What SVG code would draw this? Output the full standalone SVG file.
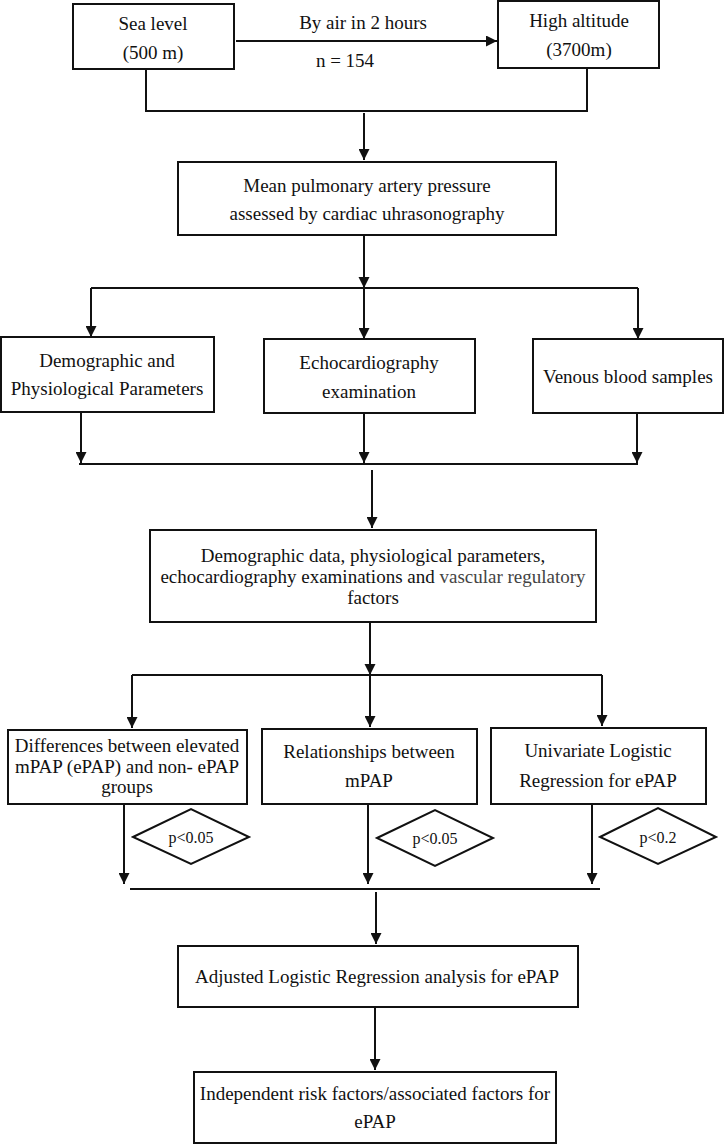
<svg xmlns="http://www.w3.org/2000/svg" width="725" height="1145" viewBox="0 0 725 1145">
<defs>
<marker id="ah" markerUnits="userSpaceOnUse" markerWidth="12" markerHeight="11" refX="11" refY="5.5" orient="auto">
<path d="M0,0 L11,5.5 L0,11 Z" fill="#111"/>
</marker>
<style>
.box{fill:#fff;stroke:#111;stroke-width:2}
.ln{fill:none;stroke:#111;stroke-width:2}
.ar{fill:none;stroke:#111;stroke-width:2;marker-end:url(#ah)}
text{font-family:"Liberation Serif","Times New Roman",serif;font-size:19px;fill:#111;text-anchor:middle}
.sm{font-size:16px}
.gr{fill:#444}
</style>
</defs>
<rect width="725" height="1145" fill="#fff"/>
<g id="connectors">
<line class="ar" x1="236" y1="41" x2="497" y2="41"/>
<polyline class="ln" points="146,69 146,111 587,111 587,68"/>
<line class="ar" x1="364" y1="113" x2="364" y2="160"/>
<line class="ln" x1="364" y1="235" x2="364" y2="288"/>
<polygon points="358.5,277 369.5,277 364,288" fill="#111"/>
<line class="ln" x1="91" y1="288" x2="638" y2="288"/>
<line class="ar" x1="91" y1="288" x2="91" y2="337"/>
<line class="ar" x1="364" y1="288" x2="364" y2="339"/>
<line class="ar" x1="638" y1="288" x2="638" y2="339"/>
<line class="ar" x1="81" y1="413" x2="81" y2="463"/>
<line class="ar" x1="364" y1="413" x2="364" y2="463"/>
<line class="ar" x1="637" y1="412" x2="637" y2="463"/>
<line class="ln" x1="79" y1="464" x2="638" y2="464"/>
<line class="ar" x1="372" y1="470" x2="372" y2="528"/>
<line class="ln" x1="370" y1="622" x2="370" y2="675"/>
<polygon points="364.5,664 375.5,664 370,675" fill="#111"/>
<line class="ln" x1="132" y1="675" x2="602" y2="675"/>
<line class="ar" x1="132" y1="675" x2="132" y2="728"/>
<line class="ar" x1="370" y1="675" x2="370" y2="727"/>
<line class="ar" x1="602" y1="675" x2="602" y2="726"/>
<line class="ar" x1="124" y1="804" x2="124" y2="884"/>
<line class="ar" x1="368" y1="804" x2="368" y2="884"/>
<line class="ar" x1="592" y1="804" x2="592" y2="884"/>
<line class="ln" x1="130" y1="889" x2="600" y2="889"/>
<line class="ar" x1="376" y1="892" x2="376" y2="944"/>
<line class="ar" x1="375" y1="1007" x2="375" y2="1070"/>
<text x="363" y="29">By air in 2 hours</text>
<text x="345" y="67">n = 154</text>
</g>
<g id="sea-level">
<rect class="box" x="73" y="4" width="161" height="65"/>
<text x="153" y="30">Sea level</text>
<text x="153" y="59">(500 m)</text>
</g>
<g id="high-altitude">
<rect class="box" x="498" y="1" width="161" height="67"/>
<text x="579" y="27">High altitude</text>
<text x="579" y="56">(3700m)</text>
</g>
<g id="mpap">
<rect class="box" x="178" y="162" width="378" height="73"/>
<text x="367" y="192">Mean pulmonary artery pressure</text>
<text x="367" y="220">assessed by cardiac uhrasonography</text>
</g>
<g id="demographic">
<rect class="box" x="1" y="337" width="213" height="75"/>
<text x="107" y="367">Demographic and</text>
<text x="107" y="395">Physiological Parameters</text>
</g>
<g id="echo">
<rect class="box" x="264" y="339" width="211" height="74"/>
<text x="369" y="369">Echocardiography</text>
<text x="369" y="398">examination</text>
</g>
<g id="venous">
<rect class="box" x="533" y="339" width="190" height="74"/>
<text x="628" y="383">Venous blood samples</text>
</g>
<g id="data">
<rect class="box" x="150" y="530" width="446" height="92"/>
<text x="373" y="562">Demographic data, physiological parameters,</text>
<text x="373" y="583">echocardiography examinations and <tspan class="gr">vascular regulatory</tspan></text>
<text x="373" y="604">factors</text>
</g>
<g id="differences">
<rect class="box" x="8" y="730" width="239" height="74"/>
<text x="127" y="752">Differences between elevated</text>
<text x="127" y="773">mPAP (ePAP) and non- ePAP</text>
<text x="127" y="793">groups</text>
</g>
<g id="relationships">
<rect class="box" x="262" y="729" width="215" height="75"/>
<text x="369" y="758">Relationships between</text>
<text x="369" y="787">mPAP</text>
</g>
<g id="univariate">
<rect class="box" x="491" y="728" width="215" height="76"/>
<text x="598" y="757">Univariate Logistic</text>
<text x="598" y="787">Regression for ePAP</text>
</g>
<g id="p1">
<polygon class="box" points="133,837 191,809 249,837 191,864"/>
<text class="sm" x="191" y="843">p&lt;0.05</text>
</g>
<g id="p2">
<polygon class="box" points="377,838 435,810 493,838 435,866"/>
<text class="sm" x="435" y="844">p&lt;0.05</text>
</g>
<g id="p3">
<polygon class="box" points="600,837 658,808 716,837 658,864"/>
<text class="sm" x="658" y="843">p&lt;0.2</text>
</g>
<g id="adjusted">
<rect class="box" x="178" y="946" width="400" height="61"/>
<text x="377" y="983">Adjusted Logistic Regression analysis for ePAP</text>
</g>
<g id="independent">
<rect class="box" x="194" y="1072" width="362" height="71"/>
<text x="375" y="1100">Independent risk factors/associated factors for</text>
<text x="375" y="1128">ePAP</text>
</g>
</svg>
